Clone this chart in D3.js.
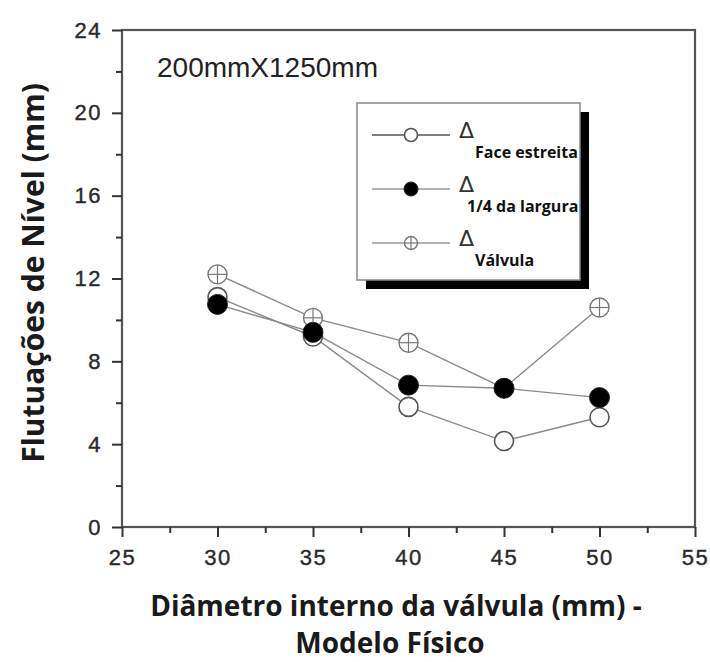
<!DOCTYPE html>
<html>
<head>
<meta charset="utf-8">
<script src="https://cdn.jsdelivr.net/npm/d3@7"></script>
<style>
  body { margin: 0; background: #fff; }
  svg { display: block; }
</style>
</head>
<body>
<svg id="chart" width="710" height="662"></svg>
<script>
// valve diameters (mm)
var diametros = [30, 35, 40, 45, 50];
// level fluctuations (mm)
var faceEstreita = [11.1, 9.2, 5.8, 4.15, 5.3];
var quartoLargura = [10.75, 9.4, 6.85, 6.7, 6.25];
var valvula = [12.2, 10.1, 8.9, 6.7, 10.6];
var xTicks = [25, 30, 35, 40, 45, 50, 55];
var xMinor = [27.5, 32.5, 37.5, 42.5, 47.5, 52.5];
var yTicks = [0, 4, 8, 12, 16, 20, 24];
var yMinor = [2, 6, 10, 14, 18, 22];
var legendLabels = ["Face estreita", "1/4 da largura", "Válvula"];

var svg = d3.select("#chart");
var pLeft = 122, pTop = 30, pRight = 695, pBottom = 527;

var x = d3.scaleLinear().domain([25, 55]).range([pLeft, pRight]);
var y = d3.scaleLinear().domain([0, 24]).range([pBottom, pTop]);

// frame
svg.append("rect")
  .attr("x", pLeft).attr("y", pTop)
  .attr("width", pRight - pLeft).attr("height", pBottom - pTop)
  .attr("fill", "none").attr("stroke", "#555").attr("stroke-width", 2.2);

function styleAxis(g) {
  g.select(".domain").remove();
  g.selectAll("line").attr("stroke", "#333").attr("stroke-width", 2);
  g.selectAll("text")
    .attr("fill", "#2a2a2a")
    .attr("stroke", "#2a2a2a").attr("stroke-width", 0.4)
    .style("font-family", "Liberation Sans, Arial, sans-serif")
    .style("font-size", "22px")
    .style("letter-spacing", "1.5px");
}

svg.append("g")
  .attr("transform", "translate(0," + pBottom + ")")
  .call(d3.axisBottom(x).tickValues(xTicks).tickSize(10).tickPadding(12).tickFormat(d3.format("d")))
  .call(styleAxis);
svg.append("g")
  .attr("transform", "translate(0," + pBottom + ")")
  .call(d3.axisBottom(x).tickValues(xMinor).tickSize(6).tickFormat(""))
  .call(styleAxis);

svg.append("g")
  .attr("transform", "translate(" + pLeft + ",0)")
  .call(d3.axisLeft(y).tickValues(yTicks).tickSize(10).tickPadding(10).tickFormat(d3.format("d")))
  .call(styleAxis);
svg.append("g")
  .attr("transform", "translate(" + pLeft + ",0)")
  .call(d3.axisLeft(y).tickValues(yMinor).tickSize(6).tickFormat(""))
  .call(styleAxis);

// label inside plot
svg.append("text")
  .attr("x", 157).attr("y", 77)
  .attr("fill", "#222")
  .style("font-family", "Liberation Sans, Arial, sans-serif")
  .style("font-size", "28px")
  .text("200mmX1250mm");

// axis titles
var titleFont = "'Open Sans', 'Noto Sans', sans-serif";
svg.append("text")
  .attr("transform", "translate(44,273) rotate(-90)")
  .attr("text-anchor", "middle")
  .attr("fill", "#1a1a1a")
  .style("font-family", titleFont).style("font-weight", "bold").style("font-size", "30px")
  .text("Flutuações de Nível (mm)");
svg.append("text")
  .attr("x", 396).attr("y", 616)
  .attr("text-anchor", "middle")
  .attr("fill", "#1a1a1a")
  .style("font-family", titleFont).style("font-weight", "bold").style("font-size", "28px")
  .text("Diâmetro interno da válvula (mm) -");
svg.append("text")
  .attr("x", 390).attr("y", 653)
  .attr("text-anchor", "middle")
  .attr("fill", "#1a1a1a")
  .style("font-family", titleFont).style("font-weight", "bold").style("font-size", "28px")
  .text("Modelo Físico");

// series
var series = [
  { values: faceEstreita, type: "open" },
  { values: valvula, type: "cross" },
  { values: quartoLargura, type: "filled" }
];

var line = d3.line()
  .x(function(d, i) { return x(diametros[i]); })
  .y(function(d) { return y(d); });

series.forEach(function(s) {
  svg.append("path")
    .datum(s.values)
    .attr("d", line)
    .attr("fill", "none")
    .attr("stroke", "#8a8a8a")
    .attr("stroke-width", 1.4);
});

function drawMarker(g, cx, cy, type, r) {
  if (type === "filled") {
    g.append("circle").attr("cx", cx).attr("cy", cy).attr("r", r + 0.5)
      .attr("fill", "#000").attr("stroke", "#222").attr("stroke-width", 1);
  } else if (type === "open") {
    g.append("circle").attr("cx", cx).attr("cy", cy).attr("r", r)
      .attr("fill", "#fff").attr("stroke", "#555").attr("stroke-width", 1.6);
  } else {
    g.append("circle").attr("cx", cx).attr("cy", cy).attr("r", r)
      .attr("fill", "#fff").attr("stroke", "#777").attr("stroke-width", 1.4);
    g.append("line").attr("x1", cx - r).attr("x2", cx + r).attr("y1", cy).attr("y2", cy)
      .attr("stroke", "#777").attr("stroke-width", 1.2);
    g.append("line").attr("x1", cx).attr("x2", cx).attr("y1", cy - r).attr("y2", cy + r)
      .attr("stroke", "#777").attr("stroke-width", 1.2);
  }
}

series.forEach(function(s) {
  var g = svg.append("g");
  s.values.forEach(function(v, i) {
    drawMarker(g, x(diametros[i]), y(v), s.type, 9.5);
  });
});

// legend
var lx = 357, ly = 103, lw = 223, lh = 177;
var legend = svg.append("g");
legend.append("rect")
  .attr("x", lx + 9).attr("y", ly + 9).attr("width", lw).attr("height", lh)
  .attr("fill", "#000");
legend.append("rect")
  .attr("x", lx).attr("y", ly).attr("width", lw).attr("height", lh)
  .attr("fill", "#fff").attr("stroke", "#888").attr("stroke-width", 1.5);

svg.append("defs").append("clipPath").attr("id", "legclip")
  .append("rect").attr("x", lx).attr("y", ly).attr("width", lw - 1).attr("height", lh);

var legTypes = ["open", "filled", "cross"];
legendLabels.forEach(function(lab, i) {
  var ry = ly + 32 + i * 54;
  var row = legend.append("g").attr("clip-path", "url(#legclip)");
  row.append("line")
    .attr("x1", 372).attr("x2", 450).attr("y1", ry).attr("y2", ry)
    .attr("stroke", i === 0 ? "#555" : "#999").attr("stroke-width", 1.4);
  drawMarker(row, 411, ry, legTypes[i], 6.5);
  row.append("text")
    .attr("x", 459).attr("y", ry + 3)
    .attr("fill", "#333")
    .style("font-family", "'DejaVu Sans', sans-serif")
    .style("font-size", "22px")
    .text("Δ");
  row.append("text")
    .attr("x", i === 1 ? 467 : 475).attr("y", ry + 23)
    .attr("fill", "#111")
    .style("font-family", titleFont).style("font-weight", "bold").style("font-size", "16px")
    .text(lab);
});
</script>
</body>
</html>
